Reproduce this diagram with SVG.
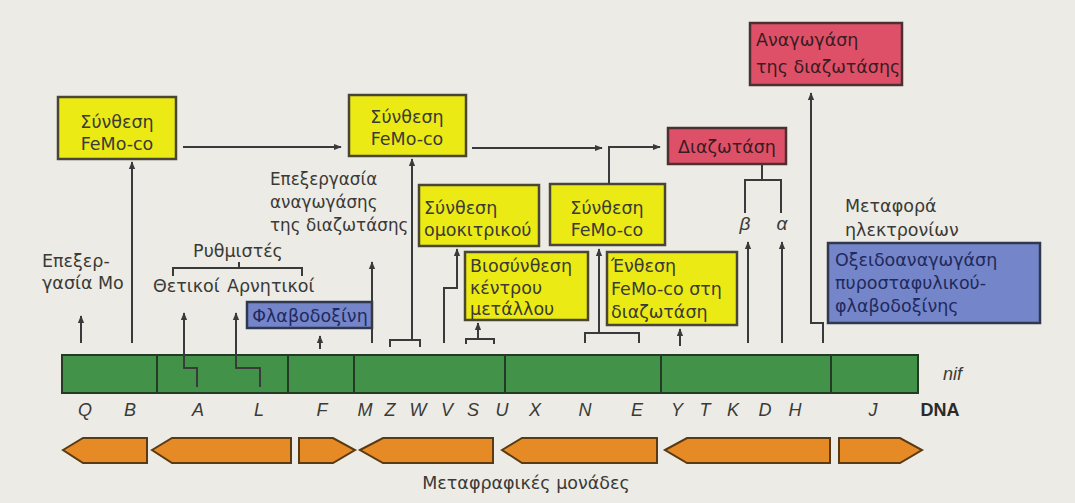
<svg xmlns="http://www.w3.org/2000/svg" width="1075" height="503" viewBox="0 0 1075 503">
<style>
text{font-family:"DejaVu Sans","Open Sans",sans-serif;font-size:17.5px;fill:#3a3a36}
.yl{fill:#ecea14;stroke:#4a4636;stroke-width:2.5}
.rd{fill:#de5068;stroke:#4a3030;stroke-width:2.5}
.bl{fill:#7585c9;stroke:#303850;stroke-width:2.5}
.bt{fill:#1f2a5c}
.rt{fill:#3a1c22}
.c{text-anchor:middle}
.it{font-family:"Liberation Sans",Arial,sans-serif;font-style:italic;font-size:18px}
.ln{fill:none;stroke:#3a3a3a;stroke-width:2}
.gr{fill:#43924a;stroke:#253a25;stroke-width:2}
.or{fill:#e68a26;stroke:#5a3a12;stroke-width:2}
</style>
<defs>
<marker id="ah" markerUnits="userSpaceOnUse" markerWidth="8" markerHeight="11" refX="9" refY="4" orient="auto" viewBox="0 0 10 8">
<path d="M0,0 L10,4 L0,8 z" fill="#3a3a3a"/>
</marker>
</defs>
<rect width="1075" height="503" fill="#ecebe5"/>

<g id="dna">
<rect class="gr" x="62" y="355" width="856" height="38"/>
<path d="M157,355V393M288,355V393M354,355V393M505,355V393M661,355V393M831,355V393" stroke="#253a25" stroke-width="2"/>
<text class="it" x="943" y="380">nif</text>
<g>
<text class="it c" x="85" y="416">Q</text>
<text class="it c" x="130" y="416">B</text>
<text class="it c" x="198" y="416">A</text>
<text class="it c" x="259" y="416">L</text>
<text class="it c" x="322" y="416">F</text>
<text class="it c" x="365" y="416">M</text>
<text class="it c" x="390" y="416">Z</text>
<text class="it c" x="418" y="416">W</text>
<text class="it c" x="447" y="416">V</text>
<text class="it c" x="473" y="416">S</text>
<text class="it c" x="502" y="416">U</text>
<text class="it c" x="535" y="416">X</text>
<text class="it c" x="585" y="416">N</text>
<text class="it c" x="637" y="416">E</text>
<text class="it c" x="677" y="416">Y</text>
<text class="it c" x="705" y="416">T</text>
<text class="it c" x="733" y="416">K</text>
<text class="it c" x="765" y="416">D</text>
<text class="it c" x="795" y="416">H</text>
<text class="it c" x="873" y="416">J</text>
</g>
<text class="c" x="940" y="416" style="font-family:'Liberation Sans',Arial,sans-serif;font-weight:bold;font-size:18px;fill:#2a2a2a">DNA</text>
</g>

<g id="units">
<polygon class="or" points="63,450 83,438 147,438 147,463 83,463"/>
<polygon class="or" points="152,450 172,438 291,438 291,463 172,463"/>
<polygon class="or" points="299,438 333,438 355,450 333,463 299,463"/>
<polygon class="or" points="360,450 383,438 493,438 493,463 383,463"/>
<polygon class="or" points="502,450 522,438 657,438 657,463 522,463"/>
<polygon class="or" points="665,450 687,438 830,438 830,463 687,463"/>
<polygon class="or" points="839,438 900,438 922,450 900,463 839,463"/>
<text class="c" x="526" y="489">Μεταφραφικές μονάδες</text>
</g>

<g id="femo1">
<rect class="yl" x="58" y="97" width="118" height="62"/>
<text class="c"><tspan x="117" y="128">Σύνθεση</tspan><tspan x="117" y="150">FeMo-co</tspan></text>
</g>
<g id="femo2">
<rect class="yl" x="349" y="95" width="117" height="61"/>
<text class="c"><tspan x="407" y="123">Σύνθεση</tspan><tspan x="407" y="145">FeMo-co</tspan></text>
</g>
<g id="femo3">
<rect class="yl" x="550" y="184" width="115" height="61"/>
<text class="c"><tspan x="607" y="214">Σύνθεση</tspan><tspan x="607" y="236">FeMo-co</tspan></text>
</g>
<g id="homocitrate">
<rect class="yl" x="419" y="185" width="120" height="61"/>
<text><tspan x="424" y="214">Σύνθεση</tspan><tspan x="424" y="236">ομοκιτρικού</tspan></text>
</g>
<g id="metalcenter">
<rect class="yl" x="465" y="252" width="123" height="68"/>
<text><tspan x="470" y="272">Βιοσύνθεση</tspan><tspan x="470" y="294">κέντρου</tspan><tspan x="470" y="315">μετάλλου</tspan></text>
</g>
<g id="insertion">
<rect class="yl" x="607" y="252" width="130" height="73"/>
<text><tspan x="611" y="272">Ένθεση</tspan><tspan x="611" y="295">FeMo-co στη</tspan><tspan x="611" y="318">διαζωτάση</tspan></text>
</g>
<g id="nitrogenase">
<rect class="rd" x="668" y="128" width="118" height="36"/>
<text class="c rt" x="727" y="153">Διαζωτάση</text>
</g>
<g id="reductase">
<rect class="rd" x="750" y="23" width="152" height="62"/>
<text class="rt"><tspan x="756" y="46">Αναγωγάση</tspan><tspan x="756" y="73">της διαζωτάσης</tspan></text>
</g>
<g id="flavodoxin">
<rect class="bl" x="247" y="302" width="125" height="26"/>
<text class="c bt" x="310" y="322">Φλαβοδοξίνη</text>
</g>
<g id="oxidoreductase">
<rect class="bl" x="828" y="243" width="212" height="80"/>
<text class="bt"><tspan x="835" y="266">Οξειδοαναγωγάση</tspan><tspan x="835" y="289">πυροσταφυλικού-</tspan><tspan x="835" y="312">φλαβοδοξίνης</tspan></text>
</g>

<g id="labels">
<text><tspan x="42" y="267">Επεξερ-</tspan><tspan x="42" y="289">γασία Μο</tspan></text>
<text style="font-size:16.8px"><tspan x="270" y="185">Επεξεργασία</tspan><tspan x="270" y="208">αναγωγάσης</tspan><tspan x="270" y="231">της διαζωτάσης</tspan></text>
<text class="c" x="238" y="257">Ρυθμιστές</text>
<text x="153" y="292">Θετικοί</text>
<text x="227" y="292">Αρνητικοί</text>
<text class="it c" x="745" y="230" style="font-size:19px">β</text>
<text class="it c" x="782" y="230" style="font-size:19px">α</text>
<text><tspan x="845" y="212">Μεταφορά</tspan><tspan x="845" y="236">ηλεκτρονίων</tspan></text>
</g>

<g id="connectors">
<path class="ln" d="M183,147H341" marker-end="url(#ah)"/>
<path class="ln" d="M472,148H602" marker-end="url(#ah)"/>
<path class="ln" d="M609,184V147H660" marker-end="url(#ah)"/>
<path class="ln" d="M81,343V316" marker-end="url(#ah)"/>
<path class="ln" d="M132,343V162" marker-end="url(#ah)"/>
<path class="ln" d="M197,387V368H184V313" marker-end="url(#ah)"/>
<path class="ln" d="M260,387V368H236V313" marker-end="url(#ah)"/>
<path class="ln" d="M320,349V336" marker-end="url(#ah)"/>
<path class="ln" d="M372,343V262" marker-end="url(#ah)"/>
<path class="ln" d="M390,347V340H420V347"/>
<path class="ln" d="M412,340V159" marker-end="url(#ah)"/>
<path class="ln" d="M444,343V288H457V249" marker-end="url(#ah)"/>
<path class="ln" d="M466,344V339H494V344"/>
<path class="ln" d="M478,339V323" marker-end="url(#ah)"/>
<path class="ln" d="M585,343V333H639V343"/>
<path class="ln" d="M599,333V249" marker-end="url(#ah)"/>
<path class="ln" d="M680,346V329" marker-end="url(#ah)"/>
<path class="ln" d="M748,343V242" marker-end="url(#ah)"/>
<path class="ln" d="M782,343V242" marker-end="url(#ah)"/>
<path class="ln" d="M823,343V323H811V93" marker-end="url(#ah)"/>
<path class="ln" d="M762,164V180M745,213V180H781V213"/>
<path class="ln" d="M239,262V268M173,276V268H302V276"/>
</g>
</svg>
